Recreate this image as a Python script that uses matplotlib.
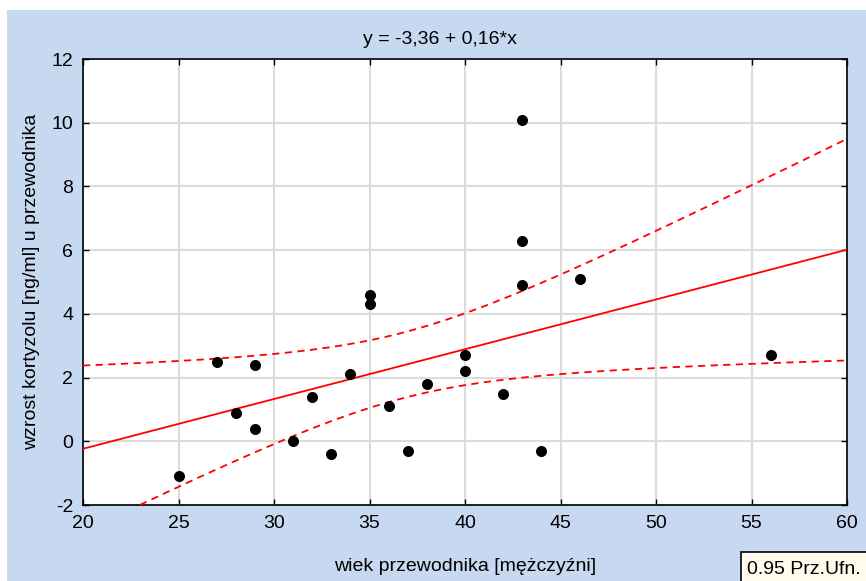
import numpy as np
import matplotlib
matplotlib.use("Agg")
import matplotlib.pyplot as plt
from matplotlib.patches import Rectangle

plt.rcParams['font.family'] = ['Liberation Sans', 'DejaVu Sans']
plt.rcParams['axes.unicode_minus'] = False

# wiek przewodnika vs. wzrost kortyzolu
wiek = [25, 27, 28, 29, 29, 31, 32, 33, 34, 35, 35, 36, 37, 38,
        40, 40, 42, 43, 43, 43, 44, 46, 56]
kortyzol = [-1.1, 2.5, 0.9, 2.4, 0.4, 0.0, 1.4, -0.4, 2.1, 4.6, 4.3, 1.1, -0.3, 1.8,
            2.7, 2.2, 1.5, 10.1, 6.3, 4.9, -0.3, 5.1, 2.7]

x_ticks = [20, 25, 30, 35, 40, 45, 50, 55, 60]
y_ticks = [-2, 0, 2, 4, 6, 8, 10, 12]

T_975_DF21 = 2.0796  # kwantyl t-Studenta, 0.95 dwustronnie, df = n - 2

BG = '#c6d9f1'
FS = 14

x = np.array(wiek, dtype=float)
y = np.array(kortyzol, dtype=float)
n = len(x)
b, a = np.polyfit(x, y, 1)
resid = y - (a + b * x)
s = np.sqrt(np.sum(resid ** 2) / (n - 2))
sxx = np.sum((x - x.mean()) ** 2)

xs = np.linspace(x_ticks[0], x_ticks[-1], 200)
fit = a + b * xs
half = T_975_DF21 * s * np.sqrt(1.0 / n + (xs - x.mean()) ** 2 / sxx)

fig = plt.figure(figsize=(8.66, 5.81), dpi=100, facecolor='white')
fig.patches.append(Rectangle((7 / 866, 0), 1, 1 - 10 / 581, transform=fig.transFigure,
                             facecolor=BG, edgecolor='none', zorder=-10))

ax = fig.add_axes([83 / 866, 1 - 505 / 581, 764 / 866, 446 / 581])
ax.set_facecolor('white')
ax.grid(True, color='#dcdcdc', linewidth=1.5, zorder=0)
ax.set_axisbelow(True)

ax.plot(xs, fit, color='#ff0000', linewidth=1.3, zorder=3)
ax.plot(xs, fit + half, color='#ff0000', linewidth=1.3, dashes=(4, 3), zorder=3)
ax.plot(xs, fit - half, color='#ff0000', linewidth=1.3, dashes=(4, 3), zorder=3)
ax.scatter(x, y, s=48, color='black', zorder=4, clip_on=False)

ax.set_xlim(x_ticks[0], x_ticks[-1])
ax.set_ylim(y_ticks[0], y_ticks[-1])
ax.set_xticks(x_ticks)
ax.set_yticks(y_ticks)
ax.tick_params(direction='in', length=4, width=1, top=True, right=True,
               labelsize=FS, pad=7)
for sp in ax.spines.values():
    sp.set_linewidth(1.2)
    sp.set_color('black')

ax.set_xlabel('wiek przewodnika [mężczyźni]', fontsize=FS, labelpad=19)
ax.set_ylabel('wzrost kortyzolu [ng/ml] u przewodnika', fontsize=FS, labelpad=8)

eq = 'y = {} + {}*x'.format(f'{a:.2f}'.replace('.', ','), f'{b:.2f}'.replace('.', ','))
fig.text(440 / 866, 1 - 40 / 581, eq, fontsize=FS, ha='center', va='center')

fig.patches.append(Rectangle((741 / 866, -0.05), 0.2, 0.05 + 29 / 581,
                             transform=fig.transFigure, facecolor='#fffcee',
                             edgecolor='black', linewidth=1.2))
fig.text(747 / 866, 1 - 570 / 581, '0.95 Prz.Ufn.', fontsize=FS, ha='left', va='center')

fig.savefig('out.png', dpi=100, facecolor=fig.get_facecolor())
